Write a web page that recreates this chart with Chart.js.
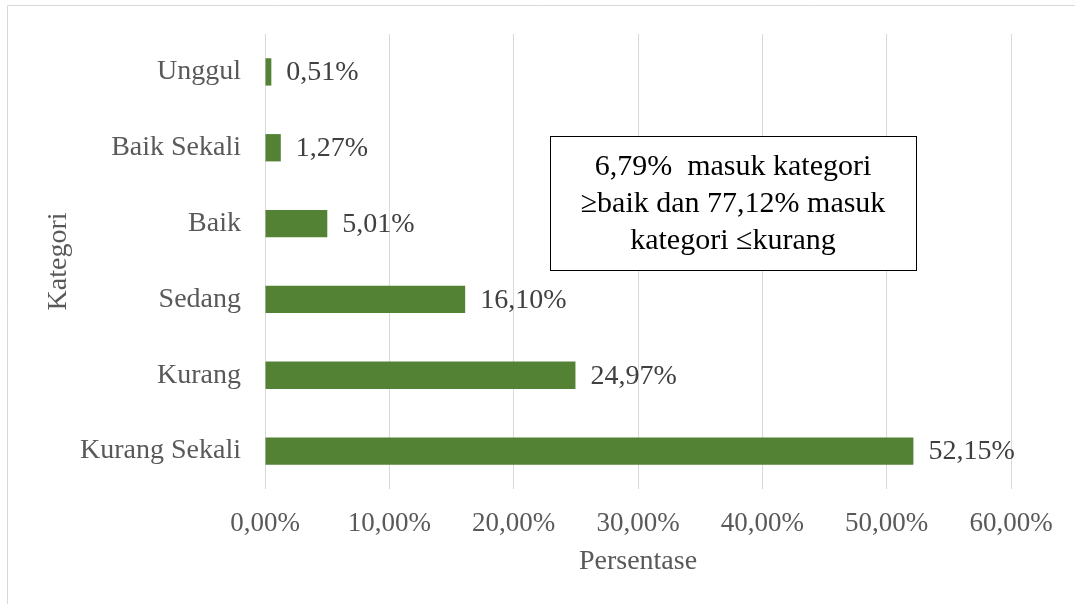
<!DOCTYPE html>
<html>
<head>
<meta charset="utf-8">
<script src="https://cdn.jsdelivr.net/npm/chart.js@4"></script>
<style>
  html, body { margin: 0; padding: 0; background: #fff; }
  #wrap { position: relative; width: 1075px; height: 604px; }
</style>
</head>
<body>
<div id="wrap"><canvas id="chart"></canvas></div>
<script>
// --- DATA ---
const categories = ['Unggul', 'Baik Sekali', 'Baik', 'Sedang', 'Kurang', 'Kurang Sekali'];
const percentages = [0.51, 1.27, 5.01, 16.10, 24.97, 52.15];
const noteLines = ['6,79%  masuk kategori', '\u2265baik dan 77,12% masuk', 'kategori \u2264kurang'];

const FONT = "'Liberation Serif', 'Times New Roman', serif";
const fmt = v => v.toFixed(2).replace('.', ',') + '%';

// frame, value labels and the text box
const extras = {
    id: 'extras',
    afterDatasetsDraw(chart) {
        const ctx = chart.ctx;
        const meta = chart.getDatasetMeta(0);
        ctx.save();
        ctx.font = '28px ' + FONT;
        ctx.fillStyle = '#404040';
        ctx.textAlign = 'left';
        ctx.textBaseline = 'middle';
        meta.data.forEach((bar, i) => {
            ctx.fillText(fmt(percentages[i]), bar.x + 15, bar.y + 1);
        });

        // outer frame (left and top only visible)
        ctx.strokeStyle = '#d9d9d9';
        ctx.lineWidth = 1;
        ctx.beginPath();
        ctx.moveTo(7.5, 604);
        ctx.lineTo(7.5, 5.5);
        ctx.lineTo(1075, 5.5);
        ctx.stroke();

        // note box
        ctx.fillStyle = '#fff';
        ctx.fillRect(550, 136, 367, 135);
        ctx.strokeStyle = '#000';
        ctx.strokeRect(550.5, 136.5, 366, 134);
        ctx.fillStyle = '#000';
        ctx.font = '30px ' + FONT;
        ctx.textAlign = 'center';
        ctx.textBaseline = 'alphabetic';
        noteLines.forEach((line, i) => {
            ctx.fillText(line, 733, 175 + i * 37);
        });
        ctx.restore();
    }
};

new Chart(document.getElementById('chart'), {
    type: 'bar',
    data: {
        labels: categories,
        datasets: [{
            data: percentages,
            backgroundColor: '#548235',
            borderWidth: 0,
            barPercentage: 0.36,
            categoryPercentage: 1
        }]
    },
    plugins: [extras],
    options: {
        indexAxis: 'y',
        responsive: true,
        maintainAspectRatio: false,
        animation: false,
        layout: { padding: { left: 42, top: 34, right: 64, bottom: 26 } },
        plugins: { legend: { display: false }, tooltip: { enabled: false } },
        scales: {
            x: {
                min: 0,
                max: 60,
                ticks: {
                    stepSize: 10,
                    padding: 19,
                    color: '#595959',
                    font: { family: FONT, size: 27 },
                    callback: v => fmt(v)
                },
                grid: { color: '#d9d9d9', drawTicks: false },
                border: { display: false },
                title: {
                    display: true,
                    text: 'Persentase',
                    color: '#595959',
                    font: { family: FONT, size: 28 },
                    padding: { top: 9, bottom: 0 }
                },
                afterFit(scale) { scale.height = 89; }
            },
            y: {
                ticks: {
                    padding: 24,
                    color: '#595959',
                    font: { family: FONT, size: 28 }
                },
                grid: { display: false, drawTicks: false },
                border: { display: false },
                title: {
                    display: true,
                    text: 'Kategori',
                    color: '#595959',
                    font: { family: FONT, size: 28 },
                    padding: { top: 0, bottom: 0 }
                },
                afterFit(scale) {
                    scale.width = 223;
                    scale.paddingTop = 0;
                    scale.paddingBottom = 0;
                }
            }
        }
    }
});
</script>
</body>
</html>
